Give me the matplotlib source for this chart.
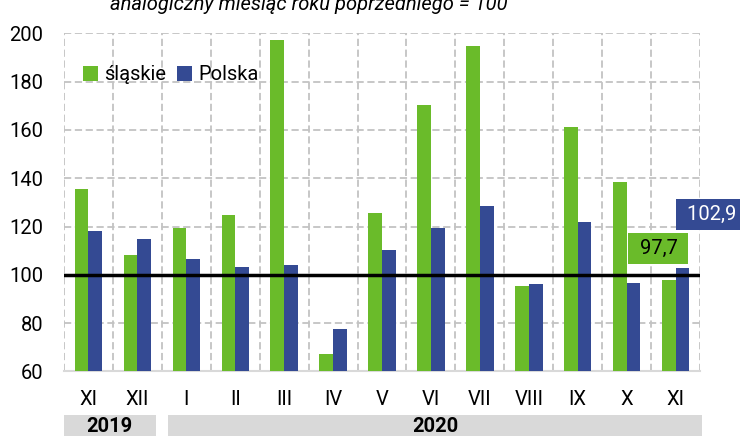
import numpy as np
import matplotlib
matplotlib.use('Agg')
import matplotlib.pyplot as plt
import matplotlib.transforms as mtransforms
from matplotlib.patches import Rectangle

plt.rcParams['font.family'] = ['Roboto', 'DejaVu Sans']

# Data
months = ['XI', 'XII', 'I', 'II', 'III', 'IV', 'V', 'VI', 'VII', 'VIII', 'IX', 'X', 'XI']
slaskie = [135.4, 108.3, 119.4, 124.8, 197.2, 67.2, 125.7, 170.3, 194.8, 95.3, 161.1, 138.6, 97.7]
polska = [118.3, 114.8, 106.5, 103.3, 103.9, 77.5, 110.2, 119.2, 128.7, 96.3, 121.9, 96.6, 102.9]
years = ['2019', '2020']
months_per_year = [2, 11]
title = 'analogiczny miesiąc roku poprzedniego = 100'

green = '#6abb2a'
blue = '#344a93'
grid_col = '#c3c3c3'

fig = plt.figure(figsize=(7.4, 4.36), dpi=100)
ax = fig.add_axes([0.0865, 0.148, 0.8595, 0.7755])

x = np.arange(len(months))
w = 0.28
ax.bar(x - w / 2, slaskie, width=w, color=green, label='śląskie', zorder=3)
ax.bar(x + w / 2, polska, width=w, color=blue, label='Polska', zorder=3)

ax.set_ylim(60, 200)
ax.set_xlim(-0.5, len(months) - 0.5)
ax.set_yticks(np.arange(60, 201, 20))
ax.set_xticks(x)
ax.set_xticks(np.arange(-0.5, len(months), 0.5), minor=True)
ax.set_xticklabels(months)
ax.tick_params(axis='both', length=0, labelsize=14.5)
ax.tick_params(axis='x', which='minor', length=0)
ax.tick_params(axis='y', pad=15)
ax.tick_params(axis='x', pad=13)

ax.grid(axis='y', color=grid_col, linestyle=(0, (4, 2)), linewidth=1.3, zorder=0)
ax.grid(axis='x', which='minor', color=grid_col, linestyle=(0, (4, 2)), linewidth=1.3, zorder=0)
for s in ['top', 'left', 'right']:
    ax.spines[s].set_visible(False)
ax.spines['bottom'].set_color('#d9d9d9')
ax.spines['bottom'].set_linewidth(1.5)

# reference line at 100
ax.axhline(100, color='black', linewidth=2.5, zorder=4)

# value labels for the last month
ax.annotate(' ' + f'{slaskie[-1]:.1f}'.replace('.', ',') + ' ', xy=(x[-1] - w / 2, slaskie[-1]),
            xytext=(x[-1] - 0.35, 110.8), textcoords='data', ha='center', va='center',
            fontsize=14.5, color='black', zorder=5,
            bbox=dict(boxstyle='square,pad=0.3', fc=green, ec='none'))
ax.annotate(' ' + f'{polska[-1]:.1f}'.replace('.', ',') + ' ', xy=(x[-1] + w / 2, polska[-1]),
            xytext=(x[-1] + 0.74, 125), textcoords='data', ha='center', va='center',
            fontsize=14.5, color='white', zorder=5, annotation_clip=False,
            bbox=dict(boxstyle='square,pad=0.3', fc=blue, ec='none'))

ax.legend(ncol=2, frameon=False, fontsize=14.5, loc='upper left',
          bbox_to_anchor=(0.014, 0.935), borderpad=0, handlelength=0.75,
          handleheight=0.75, handletextpad=0.3, columnspacing=0.55)

# year boxes under the month labels
trans = mtransforms.blended_transform_factory(ax.transData, ax.transAxes)
start = -0.5
for i, (yr, n) in enumerate(zip(years, months_per_year)):
    left = start + (0.0 if i == 0 else 0.13)
    right = start + n - (0.13 if i < len(years) - 1 else -0.04)
    ax.add_patch(Rectangle((left, -0.2), right - left, 0.0715, transform=trans,
                           facecolor='#d9d9d9', edgecolor='none', clip_on=False))
    ax.text((left + right) / 2, -0.163, yr, transform=trans, ha='center', va='center',
            fontsize=14.5, fontweight='bold')
    start += n

fig.text(0.417, 0.99, title, ha='center', va='center', fontsize=14.5, style='italic')

fig.savefig('out.png', dpi=100)
